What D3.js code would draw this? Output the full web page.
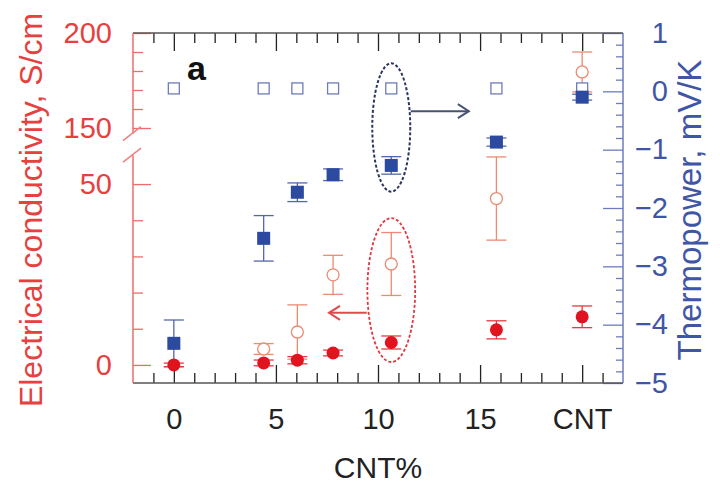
<!DOCTYPE html>
<html>
<head>
<meta charset="utf-8">
<script src="https://cdn.jsdelivr.net/npm/d3@7"></script>
<style>
  html, body { margin: 0; padding: 0; background: #fff; }
  svg { display: block; }
  text { font-family: "Liberation Sans", Arial, Helvetica, sans-serif; }
</style>
</head>
<body>
<svg id="chart" width="720" height="488"></svg>
<script>
// ---------------- data ----------------
const cntPercent = [0, 4.4, 6.05, 7.8, 10.65, 15.8, 20];          // x position (CNT at 20)
const xTickValues = [0, 5, 10, 15, 20];
const xTickLabels = ["0", "5", "10", "15", "CNT"];

// electrical conductivity (S/cm), filled red circles
const sigmaFilled    = [0, 0.55, 1.3, 3.3, 6.2, 9.7, 13.3];
const sigmaFilledErr = [0.5, 0.8, 1.0, 0.8, 1.8, 2.5, 3.0];
// electrical conductivity (S/cm), open red circles
const sigmaOpen    = [null, 4.4, 9.1, 24.9, 27.9, 46, 179.5];
const sigmaOpenErr = [null, 1.5, 7.5, 5.4, 8.7, 11.5, 10.5];

// thermopower (mV/K), filled blue squares
const seebeckFilled    = [-4.32, -2.52, -1.73, -1.43, -1.27, -0.87, -0.1];
const seebeckFilledErr = [0.40, 0.39, 0.16, 0.10, 0.15, 0.07, 0.05];
// thermopower (mV/K), open blue squares
const seebeckOpen = [0.05, 0.05, 0.05, 0.05, 0.05, 0.05, 0.05];

const leftMajorLow = [0, 50];
const leftMinorLow = [10, 20, 30, 40];
const leftMajorHigh = [150, 200];
const leftMinorHigh = [160, 170, 180, 190];
const rightTicks = [1, 0, -1, -2, -3, -4, -5];

// ---------------- layout ----------------
const RED = "#e8383d", RED_TEXT = "#e6403f", SALMON = "#ec8a72";
const BLUE = "#2c4aa0", BLUE_TEXT = "#3f56a6", BLUE_LIGHT = "#6d7cbc";
const BLACK = "#222";
const L = 133, R = 623, T = 33, B = 383;

const svg = d3.select("#chart");

const x = d3.scaleLinear().domain([-2, 22]).range([L, R]);
const yR = d3.scaleLinear().domain([-5, 1]).range([B, T]);
const yLow = d3.scaleLinear().domain([-5, 58]).range([B, B - 63 * 3.617]);
const yHigh = d3.scaleLinear().domain([147, 200]).range([T + 53 * 1.9, T]);
const ySig = v => v <= 60 ? yLow(v) : yHigh(v);

// ---------------- axes ----------------
function styleAxis(g, color) {
  g.selectAll("line").attr("stroke", color).attr("stroke-width", 1.3);
  g.selectAll("path.domain").remove();
  g.selectAll("text").attr("fill", color).style("font-size", "29px");
}

// bottom
const gB = svg.append("g").attr("transform", `translate(0,${B})`);
gB.append("g").call(d3.axisBottom(x).tickValues(d3.range(-1, 22, 1).filter(v => !xTickValues.includes(v))).tickSize(-10).tickFormat("")).call(g => styleAxis(g, BLACK));
gB.append("g").call(d3.axisBottom(x).tickValues(xTickValues).tickSize(-18).tickFormat((d, i) => xTickLabels[i]))
  .call(g => styleAxis(g, BLACK))
  .call(g => g.selectAll("text").attr("y", 46).attr("dy", 0).attr("fill", BLACK));
// top
const gT = svg.append("g").attr("transform", `translate(0,${T})`);
gT.append("g").call(d3.axisTop(x).tickValues(d3.range(-1, 22, 1).filter(v => !xTickValues.includes(v))).tickSize(-10).tickFormat("")).call(g => styleAxis(g, BLACK));
gT.append("g").call(d3.axisTop(x).tickValues(xTickValues).tickSize(-18).tickFormat("")).call(g => styleAxis(g, BLACK));

// right
const gR = svg.append("g").attr("transform", `translate(${R},0)`);
gR.append("g").call(d3.axisRight(yR).tickValues(d3.range(-4.8, 1, 0.2).filter(v => Math.abs(v - Math.round(v)) > 0.05)).tickSize(-7).tickFormat("")).call(g => styleAxis(g, BLUE_LIGHT));
gR.append("g").call(d3.axisRight(yR).tickValues(rightTicks).tickSize(-20).tickFormat(d3.format("d")))
  .call(g => styleAxis(g, BLUE_LIGHT))
  .call(g => g.selectAll("text").attr("text-anchor", "end").attr("x", 45).attr("fill", BLUE_TEXT));

// left (broken)
const gL = svg.append("g").attr("transform", `translate(${L},0)`);
gL.append("g").call(d3.axisLeft(yLow).tickValues(leftMinorLow).tickSize(-10).tickFormat("")).call(g => styleAxis(g, "#ef6b6b"));
gL.append("g").call(d3.axisLeft(yLow).tickValues(leftMajorLow).tickSize(-18).tickPadding(21)).call(g => styleAxis(g, "#ef6b6b"))
  .call(g => g.selectAll("text").attr("fill", RED_TEXT));
gL.append("g").call(d3.axisLeft(yHigh).tickValues(leftMinorHigh).tickSize(-10).tickFormat("")).call(g => styleAxis(g, "#ef6b6b"));
gL.append("g").call(d3.axisLeft(yHigh).tickValues(leftMajorHigh).tickSize(-18).tickPadding(21)).call(g => styleAxis(g, "#ef6b6b"))
  .call(g => g.selectAll("text").attr("fill", RED_TEXT));

// frame lines
svg.append("line").attr("x1", L).attr("x2", R).attr("y1", B).attr("y2", B).attr("stroke", "#555").attr("stroke-width", 1.5);
svg.append("line").attr("x1", L).attr("x2", R).attr("y1", T).attr("y2", T).attr("stroke", "#555").attr("stroke-width", 1.5);
svg.append("line").attr("x1", R).attr("x2", R).attr("y1", T).attr("y2", B).attr("stroke", BLUE_LIGHT).attr("stroke-width", 1.5);
svg.append("line").attr("x1", L).attr("x2", L).attr("y1", B).attr("y2", yLow.range()[1]).attr("stroke", "#ef6b6b").attr("stroke-width", 1.5);
svg.append("line").attr("x1", L).attr("x2", L).attr("y1", yHigh.range()[0]).attr("y2", T).attr("stroke", "#ef6b6b").attr("stroke-width", 1.5);
// break marks
[yLow.range()[1], yHigh.range()[0]].forEach(yy => {
  svg.append("line").attr("x1", L - 10).attr("x2", L + 8).attr("y1", yy + 7).attr("y2", yy - 7)
    .attr("stroke", "#ef8080").attr("stroke-width", 1.5);
});

// ---------------- marks ----------------
function errBar(g, cx, y0, y1, color, w) {
  g.append("line").attr("x1", cx).attr("x2", cx).attr("y1", y0).attr("y2", y1).attr("stroke", color).attr("stroke-width", 1.3);
  g.append("line").attr("x1", cx - w).attr("x2", cx + w).attr("y1", y0).attr("y2", y0).attr("stroke", color).attr("stroke-width", 1.3);
  g.append("line").attr("x1", cx - w).attr("x2", cx + w).attr("y1", y1).attr("y2", y1).attr("stroke", color).attr("stroke-width", 1.3);
}
const gm = svg.append("g");

// open red circles
cntPercent.forEach((c, i) => {
  const v = sigmaOpen[i]; if (v == null) return;
  const e = sigmaOpenErr[i];
  errBar(gm, x(c), ySig(v + e), ySig(v - e), SALMON, 10);
  gm.append("circle").attr("cx", x(c)).attr("cy", ySig(v)).attr("r", 6).attr("fill", "#fff").attr("stroke", SALMON).attr("stroke-width", 1.3);
});
// open blue squares
cntPercent.forEach((c, i) => {
  gm.append("rect").attr("x", x(c) - 5.5).attr("y", yR(seebeckOpen[i]) - 5.5).attr("width", 11).attr("height", 11)
    .attr("fill", "#fff").attr("stroke", BLUE_LIGHT).attr("stroke-width", 1.3);
});
// filled blue squares
cntPercent.forEach((c, i) => {
  const v = seebeckFilled[i], e = seebeckFilledErr[i];
  errBar(gm, x(c), yR(v + e), yR(v - e), "#5566ad", 10);
  gm.append("rect").attr("x", x(c) - 6.5).attr("y", yR(v) - 6.5).attr("width", 13).attr("height", 13).attr("fill", BLUE);
});
// filled red circles
cntPercent.forEach((c, i) => {
  const v = sigmaFilled[i], e = sigmaFilledErr[i];
  errBar(gm, x(c), ySig(v + e), ySig(v - e), RED, 10);
  gm.append("circle").attr("cx", x(c)).attr("cy", ySig(v)).attr("r", 6.5).attr("fill", "#e0141f");
});

// ---------------- annotations ----------------
// dark dashed ellipse around thermopower at 10.65
svg.append("ellipse").attr("cx", x(10.65)).attr("cy", yR(-0.62))
  .attr("rx", x(10.65 + 0.93) - x(10.65)).attr("ry", yR(-1.72) - yR(-0.62))
  .attr("fill", "none").attr("stroke", "#2b3560").attr("stroke-width", 2).attr("stroke-dasharray", "3,2");
// red dashed ellipse around conductivity at 10.65
svg.append("ellipse").attr("cx", x(10.65)).attr("cy", yLow(20.7))
  .attr("rx", x(10.65 + 1.17) - x(10.65)).attr("ry", yLow(0.8) - yLow(20.7))
  .attr("fill", "none").attr("stroke", "#e03840").attr("stroke-width", 1.8).attr("stroke-dasharray", "3,2");
// arrows
function arrow(xa, xb, yy, color) {
  const dir = Math.sign(xb - xa);
  svg.append("line").attr("x1", xa).attr("x2", xb).attr("y1", yy).attr("y2", yy).attr("stroke", color).attr("stroke-width", 2);
  svg.append("path").attr("d", `M${xb - dir * 11},${yy - 7} L${xb},${yy} L${xb - dir * 11},${yy + 7}`)
    .attr("fill", "none").attr("stroke", color).attr("stroke-width", 2);
}
arrow(x(11.6), x(14.45), yR(-0.34), "#4a5472");
arrow(x(9.45), x(7.6), yLow(14.4), "#e24a4a");

// panel label
svg.append("text").attr("x", x(0.65)).attr("y", yR(0.19)).text("a")
  .style("font-size", "34px").style("font-weight", "bold").attr("fill", "#111");

// ---------------- titles ----------------
svg.append("text").attr("transform", `translate(42,${210}) rotate(-90)`).attr("text-anchor", "middle")
  .text("Electrical conductivity, S/cm").style("font-size", "32px").attr("fill", RED_TEXT);
svg.append("text").attr("transform", `translate(701,${210}) rotate(-90)`).attr("text-anchor", "middle")
  .text("Thermopower, mV/K").style("font-size", "33px").attr("fill", BLUE_TEXT);
svg.append("text").attr("x", x(10)).attr("y", 478).attr("text-anchor", "middle")
  .text("CNT%").style("font-size", "30px").attr("fill", BLACK);
</script>
</body>
</html>
